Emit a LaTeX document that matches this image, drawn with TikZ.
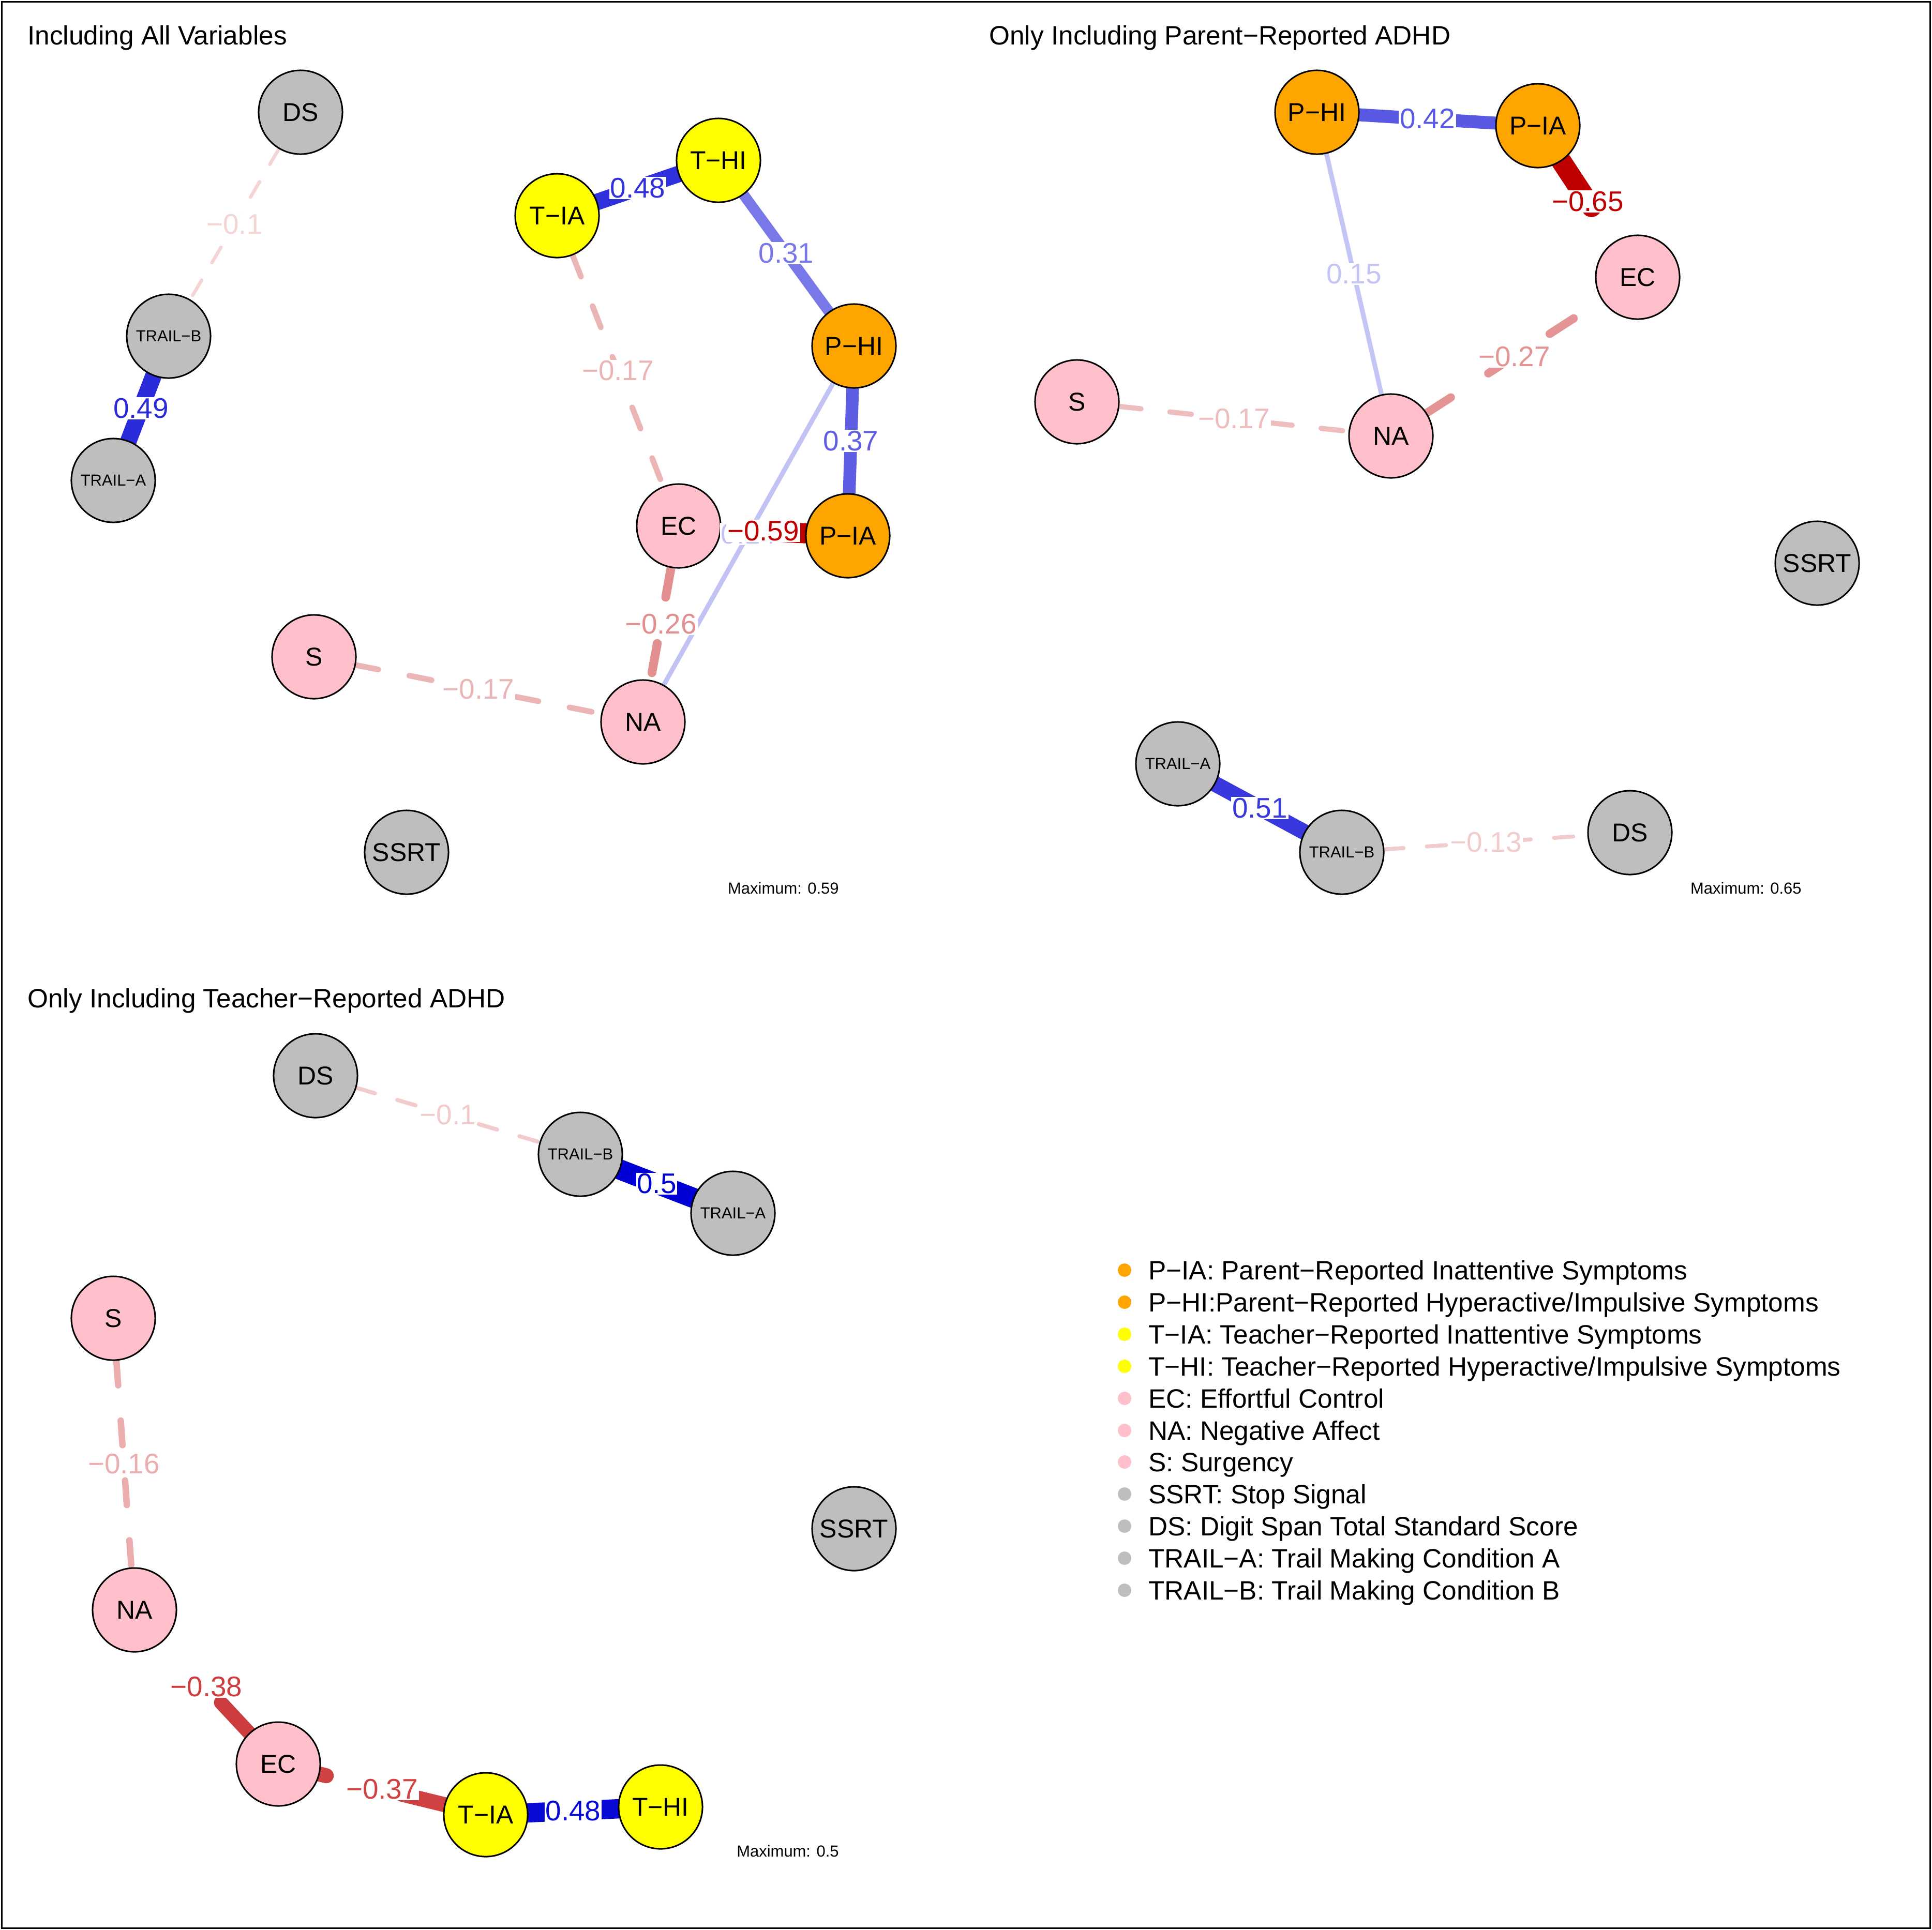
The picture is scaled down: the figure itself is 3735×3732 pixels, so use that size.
\documentclass[tikz,border=0pt]{standalone}
\usepackage{fontspec}
\setmainfont{Liberation Sans}
\pgfdeclarelayer{edgelayer}
\pgfsetlayers{edgelayer,main}
\definecolor{pblue}{RGB}{0,0,213}
\definecolor{nred}{RGB}{191,0,0}
\definecolor{porange}{RGB}{255,165,0}
\definecolor{tyellow}{RGB}{255,255,0}
\definecolor{tpink}{RGB}{255,192,203}
\definecolor{cgrey}{RGB}{190,190,190}
\newcommand\nodefnt{\fontsize{14.2}{17}\selectfont}
\newcommand\trailfnt{\fontsize{8.8}{10.5}\selectfont}
\newcommand\labfnt{\fontsize{15.6}{18}\selectfont}
\newcommand\titlefnt{\fontsize{14.6}{17.5}\selectfont}
\tikzset{
  var/.style={circle, draw=black, line width=0.03cm, minimum size=1.62cm, inner sep=0pt, font=\nodefnt},
  pnode/.style={var, fill=porange},
  tnode/.style={var, fill=tyellow},
  snode/.style={var, fill=tpink},
  cnode/.style={var, fill=cgrey},
  trailnode/.style={cnode, font=\trailfnt},
  posedge/.style={line cap=round, line width=#1*0.01cm},
  negedge/.code={%
    \pgfmathsetmacro\dashon{(20+2.2*#1)*0.01}%
    \pgfmathsetmacro\dashoff{(6+5*#1)*0.01}%
    \tikzset{line cap=round, line width=#1*0.01cm, dash pattern=on \dashon cm off \dashoff cm}},
  elab/.style={fill=white, inner sep=0.5pt, font=\labfnt},
  title/.style={anchor=base west, font=\titlefnt},
  maxtext/.style={anchor=base east, font=\trailfnt},
  keydot/.style={circle, inner sep=0pt, minimum size=0.26cm},
  keytext/.style={anchor=base west, font=\titlefnt}
}
\begin{document}
\begin{tikzpicture}[x=0.01cm,y=-0.01cm]
\useasboundingbox (0,0) rectangle (3735,3732);
\draw[line width=0.035cm] (3.5,3.5) rectangle (3731.5,3728.5);

\node[title] (title1) at (41,86) {Including All Variables};
\node[cnode] (DSa) at (581,217) {DS};
\node[trailnode] (TBa) at (326,650) {TRAIL−B};
\node[trailnode] (TAa) at (219,929) {TRAIL−A};
\node[tnode] (TIAa) at (1077,417) {T−IA};
\node[tnode] (THIa) at (1389,310) {T−HI};
\node[pnode] (PHIa) at (1651,669) {P−HI};
\node[pnode] (PIAa) at (1639,1036) {P−IA};
\node[snode] (ECa) at (1312,1017) {EC};
\node[snode] (Sa) at (607,1270) {S};
\node[snode] (NAa) at (1243,1396) {NA};
\node[cnode] (SSRTa) at (786,1648) {SSRT};
\node[maxtext] (max1) at (1634,1728) {Maximum: 0.59};

\node[title] (title2) at (1900,86) {Only Including Parent−Reported ADHD};
\node[pnode] (PHIb) at (2546,217) {P−HI};
\node[pnode] (PIAb) at (2973,243) {P−IA};
\node[snode] (ECb) at (3166,536) {EC};
\node[snode] (Sb) at (2082,777) {S};
\node[snode] (NAb) at (2689,843) {NA};
\node[cnode] (SSRTb) at (3513,1089) {SSRT};
\node[trailnode] (TAb) at (2277,1477) {TRAIL−A};
\node[trailnode] (TBb) at (2594,1648) {TRAIL−B};
\node[cnode] (DSb) at (3151,1610) {DS};
\node[maxtext] (max2) at (3495,1728) {Maximum: 0.65};

\node[title] (title3) at (41,1948) {Only Including Teacher−Reported ADHD};
\node[cnode] (DSc) at (610,2080) {DS};
\node[trailnode] (TBc) at (1122,2232) {TRAIL−B};
\node[trailnode] (TAc) at (1417,2346) {TRAIL−A};
\node[snode] (Sc) at (219,2549) {S};
\node[cnode] (SSRTc) at (1651,2956) {SSRT};
\node[snode] (NAc) at (260,3113) {NA};
\node[snode] (ECc) at (538,3411) {EC};
\node[tnode] (TIAc) at (939,3509) {T−IA};
\node[tnode] (THIc) at (1277,3494) {T−HI};
\node[maxtext] (max3) at (1634,3590) {Maximum: 0.5};

\begin{pgfonlayer}{edgelayer}
\draw[negedge=6.6, draw=nred!17!white] (DSa) -- (TBa);
\draw[posedge=32, draw=pblue!83!white] (TBa) -- (TAa);
\draw[posedge=32, draw=pblue!81!white] (TIAa) -- (THIa);
\draw[posedge=20.5, draw=pblue!53!white] (THIa) -- (PHIa);
\draw[posedge=24.5, draw=pblue!63!white] (PHIa) -- (PIAa);
\draw[negedge=11, draw=nred!29!white] (TIAa) -- (ECa);
\draw[negedge=39, draw=nred] (PIAa) -- (ECa);
\draw[posedge=9, draw=pblue!24!white] (PHIa) -- (NAa);
\draw[negedge=17, draw=nred!44!white] (ECa) -- (NAa);
\draw[negedge=11, draw=nred!29!white] (Sa) -- (NAa);

\draw[posedge=25, draw=pblue!65!white] (PHIb) -- (PIAb);
\draw[negedge=39, draw=nred] (PIAb) -- (ECb);
\draw[posedge=9, draw=pblue!23!white] (PHIb) -- (NAb);
\draw[negedge=10, draw=nred!26!white] (Sb) -- (NAb);
\draw[negedge=16, draw=nred!42!white] (NAb) -- (ECb);
\draw[posedge=30.6, draw=pblue!78!white] (TAb) -- (TBb);
\draw[negedge=7.8, draw=nred!20!white] (TBb) -- (DSb);

\draw[negedge=7.8, draw=nred!20!white] (DSc) -- (TBc);
\draw[posedge=39, draw=pblue] (TBc) -- (TAc);
\draw[negedge=12.5, draw=nred!32!white] (Sc) -- (NAc);
\draw[negedge=27, dash pattern=on 0.8cm off 2.5cm, draw=nred!76!white] (ECc) -- (NAc);
\draw[negedge=29, draw=nred!74!white] (TIAc) -- (ECc);
\draw[posedge=37.4, draw=pblue!96!white] (TIAc) -- (THIc);
\end{pgfonlayer}

\path (DSa) -- (TBa) node[elab, midway, text=nred!17!white] (la1) {−0.1};
\path (TBa) -- (TAa) node[elab, midway, text=pblue!83!white] (la2) {0.49};
\path (TIAa) -- (THIa) node[elab, midway, text=pblue!81!white] (la3) {0.48};
\path (THIa) -- (PHIa) node[elab, midway, text=pblue!53!white] (la4) {0.31};
\path (PHIa) -- (PIAa) node[elab, midway, text=pblue!63!white] (la5) {0.37};
\path (TIAa) -- (ECa) node[elab, midway, text=nred!29!white] (la6) {−0.17};
\path (PHIa) -- (NAa) node[elab, midway, text=pblue!24!white] (la7) {0.14};
\path (PIAa) -- (ECa) node[elab, midway, text=nred] (la8) {−0.59};
\path (ECa) -- (NAa) node[elab, midway, text=nred!44!white] (la9) {−0.26};
\path (Sa) -- (NAa) node[elab, midway, text=nred!29!white] (la10) {−0.17};

\path (PHIb) -- (PIAb) node[elab, midway, text=pblue!65!white] (lb1) {0.42};
\path (PIAb) -- (ECb) node[elab, midway, text=nred] (lb2) {−0.65};
\path (PHIb) -- (NAb) node[elab, midway, text=pblue!23!white] (lb3) {0.15};
\path (Sb) -- (NAb) node[elab, midway, text=nred!26!white] (lb4) {−0.17};
\path (NAb) -- (ECb) node[elab, midway, text=nred!42!white] (lb5) {−0.27};
\path (TAb) -- (TBb) node[elab, midway, text=pblue!78!white] (lb6) {0.51};
\path (TBb) -- (DSb) node[elab, midway, text=nred!20!white] (lb7) {−0.13};

\path (DSc) -- (TBc) node[elab, midway, text=nred!20!white] (lc1) {−0.1};
\path (TBc) -- (TAc) node[elab, midway, text=pblue] (lc2) {0.5};
\path (Sc) -- (NAc) node[elab, midway, text=nred!32!white] (lc3) {−0.16};
\path (ECc) -- (NAc) node[elab, midway, text=nred!76!white] (lc4) {−0.38};
\path (TIAc) -- (ECc) node[elab, midway, text=nred!74!white] (lc5) {−0.37};
\path (TIAc) -- (THIc) node[elab, midway, text=pblue!96!white] (lc6) {0.48};

\node[keydot, fill=porange] (key1) at (2174,2456) {};
\node[keytext] (txt1) at (2208,2474) {P−IA: Parent−Reported Inattentive Symptoms};
\node[keydot, fill=porange] (key2) at (2174,2518) {};
\node[keytext] (txt2) at (2208,2536) {P−HI:Parent−Reported Hyperactive/Impulsive Symptoms};
\node[keydot, fill=tyellow] (key3) at (2174,2580) {};
\node[keytext] (txt3) at (2208,2598) {T−IA: Teacher−Reported Inattentive Symptoms};
\node[keydot, fill=tyellow] (key4) at (2174,2642) {};
\node[keytext] (txt4) at (2208,2660) {T−HI: Teacher−Reported Hyperactive/Impulsive Symptoms};
\node[keydot, fill=tpink] (key5) at (2174,2704) {};
\node[keytext] (txt5) at (2208,2722) {EC: Effortful Control};
\node[keydot, fill=tpink] (key6) at (2174,2766) {};
\node[keytext] (txt6) at (2208,2784) {NA: Negative Affect};
\node[keydot, fill=tpink] (key7) at (2174,2827) {};
\node[keytext] (txt7) at (2208,2845) {S: Surgency};
\node[keydot, fill=cgrey] (key8) at (2174,2889) {};
\node[keytext] (txt8) at (2208,2907) {SSRT: Stop Signal};
\node[keydot, fill=cgrey] (key9) at (2174,2951) {};
\node[keytext] (txt9) at (2208,2969) {DS: Digit Span Total Standard Score};
\node[keydot, fill=cgrey] (key10) at (2174,3013) {};
\node[keytext] (txt10) at (2208,3031) {TRAIL−A: Trail Making Condition A};
\node[keydot, fill=cgrey] (key11) at (2174,3075) {};
\node[keytext] (txt11) at (2208,3093) {TRAIL−B: Trail Making Condition B};
\end{tikzpicture}
\end{document}
